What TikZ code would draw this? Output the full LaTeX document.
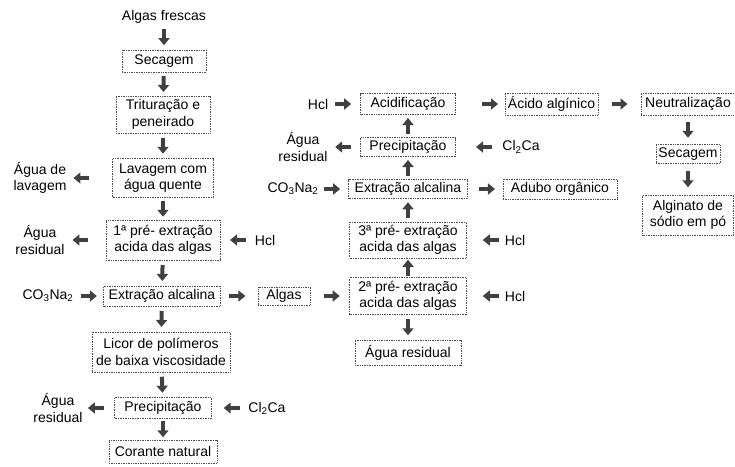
\documentclass[tikz,border=0pt]{standalone}
\usepackage{fontspec}
\setmainfont{Liberation Sans}
\usepackage{tikz}
\usetikzlibrary{arrows.meta,decorations.markings}
\tikzset{
  box/.style={draw=black!70, densely dotted, line width=0.7pt, align=center, inner sep=1pt},
  lbl/.style={align=center, inner sep=1pt},
  fat/.style={line width=4pt, black!75, -{Triangle[length=7pt,width=11pt]}},
  flow/.style={decoration={markings, mark=at position #1 with {\draw[fat] (-8pt,0) -- (8pt,0);}}, postaction={decorate}},
  flow/.default=0.5
}

\begin{document}
\begin{tikzpicture}[x=1pt, y=-1pt, font=\fontsize{14}{16.5}\selectfont]
  \useasboundingbox (0,0) rectangle (735,466);
  % main line, left column
  \node[lbl] (fresh) at (164,17) {Algas frescas};
  \node[box, minimum width=84pt, minimum height=22pt] (dry1) at (164,61) {Secagem};
  \node[box, minimum width=94pt, minimum height=37pt] (grind) at (163,114.5) {Trituração e\\peneirado};
  \node[box, minimum width=101pt, minimum height=39pt] (wash) at (163,178) {Lavagem com\\água quente};
  \node[box, minimum width=114pt, minimum height=40pt] (acid1) at (163,240) {1ª pré- extração\\acida das algas};
  \node[box, minimum width=117pt, minimum height=20pt] (alk1) at (162,296) {Extração alcalina};
  \node[box, minimum width=138pt, minimum height=40pt] (liquor) at (161,352) {Licor de polímeros\\de baixa viscosidade};
  \node[box, minimum width=97pt, minimum height=21pt] (prec1) at (163,408) {Precipitação};
  \node[box, minimum width=108pt, minimum height=23pt] (dye) at (163,451.5) {Corante natural};
  % side streams, left
  \node[lbl] (washwater) at (40,178) {Água de\\lavagem};
  \node[lbl] (waste1) at (40,240) {Água\\residual};
  \node[lbl] (hcl1) at (265,240) {Hcl};
  \node[lbl] (soda1) at (48,296) {CO\textsubscript{3}Na\textsubscript{2}};
  \node[box, minimum width=52pt, minimum height=18pt] (algae) at (284,296) {Algas};
  \node[lbl] (waste2) at (58,408) {Água\\residual};
  \node[lbl] (cacl1) at (267,408) {Cl\textsubscript{2}Ca};
  % second line, right column
  \node[box, minimum width=117pt, minimum height=37pt] (acid2) at (408,296) {2ª pré- extração\\acida das algas};
  \node[box, minimum width=106pt, minimum height=25pt] (waste3) at (408,352.5) {Água residual};
  \node[box, minimum width=117pt, minimum height=36pt] (acid3) at (408,240) {3ª pré- extração\\acida das algas};
  \node[box, minimum width=119pt, minimum height=19pt] (alk2) at (408,189) {Extração alcalina};
  \node[box, minimum width=95pt, minimum height=19pt] (prec2) at (408,147) {Precipitação};
  \node[box, minimum width=95pt, minimum height=21pt] (acidif) at (408,104) {Acidificação};
  \node[lbl] (hcl2) at (515,296) {Hcl};
  \node[lbl] (hcl3) at (515,240) {Hcl};
  \node[lbl] (soda2) at (293,189) {CO\textsubscript{3}Na\textsubscript{2}};
  \node[box, minimum width=114pt, minimum height=20pt] (manure) at (560,189) {Adubo orgânico};
  \node[lbl] (waste4) at (303,147) {Água\\residual};
  \node[lbl] (cacl2) at (521,147) {Cl\textsubscript{2}Ca};
  \node[lbl] (hcl4) at (318,104) {Hcl};
  % alginate line
  \node[box, minimum width=93pt, minimum height=22pt] (alginic) at (551.5,104) {Ácido algínico};
  \node[box, minimum width=94pt, minimum height=22pt] (neutral) at (688,104) {Neutralização};
  \node[box, minimum width=64pt, minimum height=19pt] (dry2) at (688,154) {Secagem};
  \node[box, minimum width=91pt, minimum height=40pt] (powder) at (688,215) {Alginato de\\sódio em pó};
  % arrows, left column
  \path[flow] (fresh) -- (dry1);
  \path[flow] (dry1) -- (grind);
  \path[flow] (grind) -- (wash);
  \path[flow] (wash) -- (acid1);
  \path[flow] (acid1) -- (alk1);
  \path[flow] (alk1) -- (liquor);
  \path[flow] (liquor) -- (prec1);
  \path[flow] (prec1) -- (dye);
  \path[flow=0.69] (wash) -- (washwater);
  \path[flow=0.63] (acid1) -- (waste1);
  \path[flow=0.47] (hcl1) -- (acid1);
  \path[flow] (soda1) -- (alk1);
  \path[flow=0.45] (alk1) -- (algae);
  \path[flow=0.55] (algae) -- (acid2);
  \path[flow=0.6] (prec1) -- (waste2);
  \path[flow=0.44] (cacl1) -- (prec1);
  % arrows, right column
  \path[flow] (acid2) -- (waste3);
  \path[flow] (acid2) -- (acid3);
  \path[flow] (acid3) -- (alk2);
  \path[flow] (alk2) -- (prec2);
  \path[flow] (prec2) -- (acidif);
  \path[flow=0.35] (hcl2) -- (acid2);
  \path[flow=0.35] (hcl3) -- (acid3);
  \path[flow=0.44] (soda2) -- (alk2);
  \path[flow=0.55] (alk2) -- (manure);
  \path[flow=0.54] (prec2) -- (waste4);
  \path[flow=0.38] (cacl2) -- (prec2);
  \path[flow=0.45] (hcl4) -- (acidif);
  \path[flow=0.7] (acidif) -- (alginic);
  \path[flow] (alginic) -- (neutral);
  \path[flow] (neutral) -- (dry2);
  \path[flow] (dry2) -- (powder);
\end{tikzpicture}
\end{document}
